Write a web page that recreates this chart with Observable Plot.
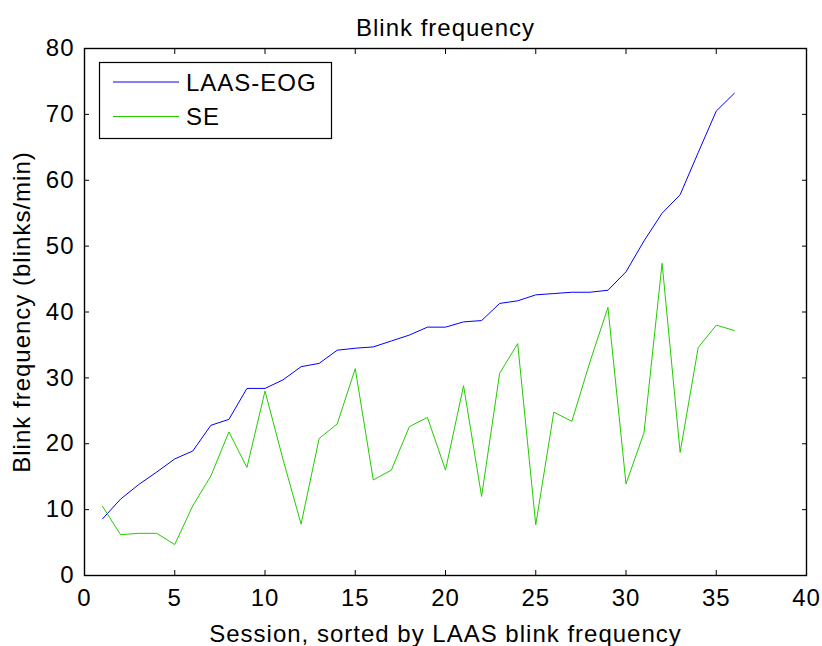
<!DOCTYPE html>
<html><head><meta charset="utf-8">
<script src="https://cdn.jsdelivr.net/npm/d3@7"></script>
<script src="https://cdn.jsdelivr.net/npm/@observablehq/plot@0.6"></script>
<style>body{margin:0;background:#fff} #chart{width:822px;height:646px}</style>
</head><body><div id="chart"></div>
<script>
const sessions = [1,2,3,4,5,6,7,8,9,10,11,12,13,14,15,16,17,18,19,20,21,22,23,24,25,26,27,28,29,30,31,32,33,34,35,36];
const laasEog = [8.6,11.6,13.8,15.7,17.7,18.9,22.8,23.7,28.4,28.4,29.7,31.7,32.2,34.2,34.5,34.7,35.6,36.5,37.7,37.7,38.5,38.7,41.3,41.7,42.6,42.8,43.0,43.0,43.3,46.1,50.8,55.0,57.8,64.2,70.5,73.2];
const se = [10.5,6.2,6.4,6.4,4.7,10.6,15.1,21.8,16.4,28.0,17.6,7.8,20.8,23.0,31.4,14.5,16.0,22.6,24.0,16.0,28.8,12.0,30.7,35.2,7.7,24.8,23.4,32.4,40.7,13.9,21.7,47.4,18.7,34.6,38.0,37.2];
const xTicks = [0,5,10,15,20,25,30,35,40];
const yTicks = [0,10,20,30,40,50,60,70,80];
const seriesNames = ["LAAS-EOG","SE"];
const seriesColors = ["#0000ff","#22cc00"];
const titleText = "Blink frequency";
const xLabel = "Session, sorted by LAAS blink frequency";
const yLabel = "Blink frequency (blinks/min)";

const W = 822, H = 646, mL = 84, mR = 16, mT = 48, mB = 71;
const tickLen = 5;

const rows = sessions.flatMap((s, i) => [
  {session: s, value: laasEog[i], series: seriesNames[0]},
  {session: s, value: se[i], series: seriesNames[1]}
]);

const noText = () => "";

const plot = Plot.plot({
  width: W, height: H,
  marginLeft: mL, marginRight: mR, marginTop: mT, marginBottom: mB,
  style: {fontFamily: "'Liberation Sans', Arial, sans-serif", fontSize: "24px", letterSpacing: "1px", background: "#fff", color: "#000", overflow: "visible"},
  x: {domain: [0, 40]},
  y: {domain: [0, 80]},
  color: {domain: seriesNames, range: seriesColors},
  marks: [
    // inward tick marks on all four sides (MATLAB box style)
    Plot.axisX({anchor: "bottom", ticks: xTicks, tickSize: tickLen, dy: -tickLen, tickFormat: noText, label: null, stroke: "#000"}),
    Plot.axisX({anchor: "top", ticks: xTicks, tickSize: tickLen, dy: tickLen, tickFormat: noText, label: null, stroke: "#000"}),
    Plot.axisY({anchor: "left", ticks: yTicks, tickSize: tickLen, dx: tickLen, tickFormat: noText, label: null, stroke: "#000"}),
    Plot.axisY({anchor: "right", ticks: yTicks, tickSize: tickLen, dx: -tickLen, tickFormat: noText, label: null, stroke: "#000"}),
    // labelled axes
    Plot.axisX({anchor: "bottom", ticks: xTicks, tickSize: 0, tickPadding: 13, label: xLabel, labelAnchor: "center", labelOffset: 66, labelArrow: "none"}),
    Plot.axisY({anchor: "left", ticks: yTicks, tickSize: 0, tickPadding: 10, label: yLabel, labelAnchor: "center", labelOffset: 72, labelArrow: "none"}),
    Plot.line(rows, {x: "session", y: "value", stroke: "series", z: "series", strokeWidth: 1}),
    Plot.frame({stroke: "#000", strokeWidth: 1.4}),
    Plot.text([titleText], {text: d => d, frameAnchor: "top", lineAnchor: "bottom", dy: -13, fill: "#000"})
  ]
});

// legend box (MATLAB style, upper-left inside axes)
const svg = d3.select(plot);
const lg = svg.append("g").attr("text-anchor", "start");
lg.append("rect").attr("x", 99.5).attr("y", 62.5).attr("width", 232).attr("height", 76)
  .attr("fill", "#fff").attr("stroke", "#000").attr("stroke-width", 1.2);
seriesNames.forEach((name, i) => {
  const y = 82 + i * 34.5;
  lg.append("line").attr("x1", 113).attr("x2", 179).attr("y1", y).attr("y2", y)
    .attr("stroke", seriesColors[i]).attr("stroke-width", 1);
  lg.append("text").attr("x", 186).attr("y", y).attr("dy", "0.36em")
    .attr("text-anchor", "start").attr("fill", "#000").text(name);
});

document.getElementById("chart").appendChild(plot);
</script>
</body></html>
